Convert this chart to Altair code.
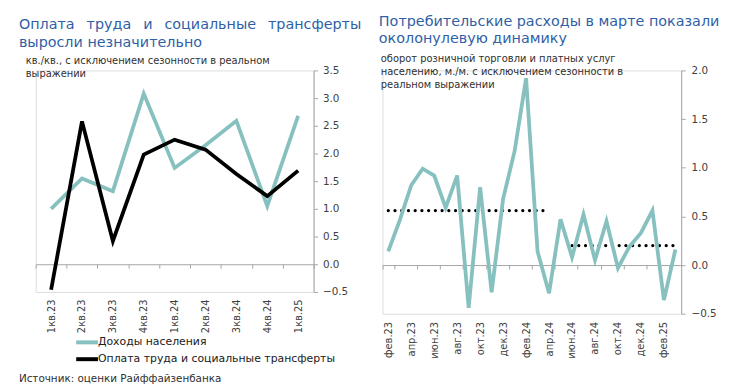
import altair as alt
import pandas as pd

FONT = "DejaVu Sans"
TEAL = "#86C0BF"
TXT = "#404040"
BLUE = "#2F5FA7"

# ---- left chart data ----
quarters = ["1кв.23", "2кв.23", "3кв.23", "4кв.23", "1кв.24", "2кв.24", "3кв.24", "4кв.24", "1кв.25"]
income = [1.0, 1.55, 1.32, 3.08, 1.74, 2.15, 2.59, 1.05, 2.68]
wages = [-0.46, 2.58, 0.42, 1.98, 2.25, 2.07, 1.63, 1.23, 1.69]
series_names = ["Доходы населения", "Оплата труда и социальные трансферты"]

# ---- right chart data ----
months = ["фев.23", "мар.23", "апр.23", "май.23", "июн.23", "июл.23", "авг.23", "сен.23",
          "окт.23", "ноя.23", "дек.23", "янв.24", "фев.24", "мар.24", "апр.24", "май.24",
          "июн.24", "июл.24", "авг.24", "сен.24", "окт.24", "ноя.24", "дек.24", "янв.25",
          "фев.25", "мар.25"]
spending = [0.14, 0.46, 0.82, 0.99, 0.92, 0.59, 0.92, -0.44, 0.80, -0.28, 0.68, 1.17, 1.92,
            0.14, -0.29, 0.47, 0.08, 0.52, 0.05, 0.45, -0.03, 0.19, 0.33, 0.56, -0.36, 0.16]
avg1_months = months[0:15]
avg1_value = 0.56
avg2_months = months[16:26]
avg2_value = 0.2
month_labels = months[0::2]

# ---- left chart ----
LW, LH = 281, 224
left_df = pd.DataFrame({
    "q": quarters * 2,
    "v": income + wages,
    "s": [series_names[0]] * len(quarters) + [series_names[1]] * len(quarters),
    "o": [0] * len(quarters) + [1] * len(quarters),
})

xl = alt.X("q:N", sort=quarters, title=None,
           scale=alt.Scale(type="band", paddingInner=0, paddingOuter=0),
           axis=alt.Axis(orient="bottom", offset=-LH * 0.5 / 4, labelAngle=270,
                         labelAlign="right", labelBaseline="middle",
                         tickBand="extent", tickSize=4, labelPadding=31,
                         domainColor="#A6A6A6", tickColor="#A6A6A6",
                         labelColor=TXT, labelFontSize=10, labelFont=FONT, grid=False))
yl = alt.Y("v:Q", title=None,
           scale=alt.Scale(domain=[-0.5, 3.5], nice=False, zero=False),
           axis=alt.Axis(orient="right", values=[-0.5, 0, 0.5, 1, 1.5, 2, 2.5, 3, 3.5],
                         format=".1f", grid=False, tickSize=4, labelPadding=5,
                         domainColor="#A6A6A6", tickColor="#A6A6A6",
                         labelColor=TXT, labelFontSize=10.5, labelFont=FONT))

left_lines = alt.Chart(left_df).mark_line(strokeWidth=3.8, strokeJoin="miter").encode(
    x=xl, y=yl,
    color=alt.Color("s:N", sort=series_names,
                    scale=alt.Scale(domain=series_names, range=[TEAL, "#000000"]),
                    legend=alt.Legend(title=None, orient="none", legendX=45, legendY=266,
                                      symbolType="M-1.86,0H1.28", symbolSize=196,
                                      symbolStrokeWidth=4, labelFontSize=11,
                                      labelFont=FONT, labelColor="#202020",
                                      rowPadding=0, labelOffset=0, padding=0,
                                      labelLimit=400)),
    order="o:Q",
    detail="s:N",
)

def txt(lines, x, y, size, color, dy=14):
    return alt.Chart(alt.Data(values=[{}])).mark_text(
        align="left", baseline="middle", font=FONT, fontSize=size, color=color,
        lineBreak="\n", lineHeight=dy
    ).encode(x=alt.value(x), y=alt.value(y), text=alt.value(lines))

gap = "\u00a0\u00a0\u2009"
left = alt.layer(
    left_lines,
    txt(f"Оплата{gap}труда{gap}и{gap}социальные{gap}трансферты\nвыросли незначительно",
        -17, -46, 14.5, BLUE, 18),
    txt("кв./кв., с исключением сезонности в реальном\nвыражении", -10, -9, 10, "#303030", 13),
    txt("Источник: оценки Райффайзенбанка", -17, 312, 10.5, "#303030"),
).properties(width=LW, height=LH)

# ---- right chart ----
RW, RH = 302, 246
spend_df = pd.DataFrame({"m": months, "v": spending})
avg_df = pd.DataFrame({
    "m": avg1_months + avg2_months,
    "v": [avg1_value] * len(avg1_months) + [avg2_value] * len(avg2_months),
    "g": ["a"] * len(avg1_months) + ["b"] * len(avg2_months),
})

xr = alt.X("m:N", sort=months, title=None,
           scale=alt.Scale(type="band", paddingInner=0, paddingOuter=0, domain=months),
           axis=alt.Axis(orient="bottom", offset=-RH * 0.5 / 2.5, labelAngle=270,
                         values=month_labels,
                         labelAlign="right", labelBaseline="middle",
                         tickBand="extent", tickSize=4, labelPadding=53,
                         domainColor="#A6A6A6", tickColor="#A6A6A6",
                         labelColor=TXT, labelFontSize=10, labelFont=FONT, grid=False))
yr = alt.Y("v:Q", title=None,
           scale=alt.Scale(domain=[-0.5, 2.0], nice=False, zero=False),
           axis=alt.Axis(orient="right", values=[-0.5, 0, 0.5, 1, 1.5, 2],
                         format=".1f", grid=False, tickSize=4, labelPadding=6,
                         domainColor="#A6A6A6", tickColor="#A6A6A6",
                         labelColor=TXT, labelFontSize=10.5, labelFont=FONT))

spend_line = alt.Chart(spend_df).mark_line(strokeWidth=3.8, color=TEAL, strokeJoin="miter").encode(
    x=xr, y=yr)
avg_line = alt.Chart(avg_df).mark_line(strokeWidth=3.2, color="#000000", strokeDash=[0.1, 6.7],
                                       strokeCap="round").encode(
    x=alt.X("m:N", sort=months), y=alt.Y("v:Q"), detail="g:N")

right = alt.layer(
    avg_line,
    spend_line,
    txt("Потребительские расходы в марте показали\nоколонулевую динамику", -3.7, -49.3, 14.5, BLUE, 18),
    txt("оборот розничной торговли и платных услуг\nнаселению, м./м. с исключением сезонности в\nреальном выражении",
        -1.7, -11.3, 10, "#303030", 13),
).properties(width=RW, height=RH)

chart = alt.hconcat(left, right, spacing=69.7, bounds="flush").properties(
    padding={"left": 10, "top": 3, "right": 0, "bottom": 0}
).configure_view(stroke=None).configure(font=FONT)

chart.save("out.html", embed_options={"renderer": "svg", "actions": False})
